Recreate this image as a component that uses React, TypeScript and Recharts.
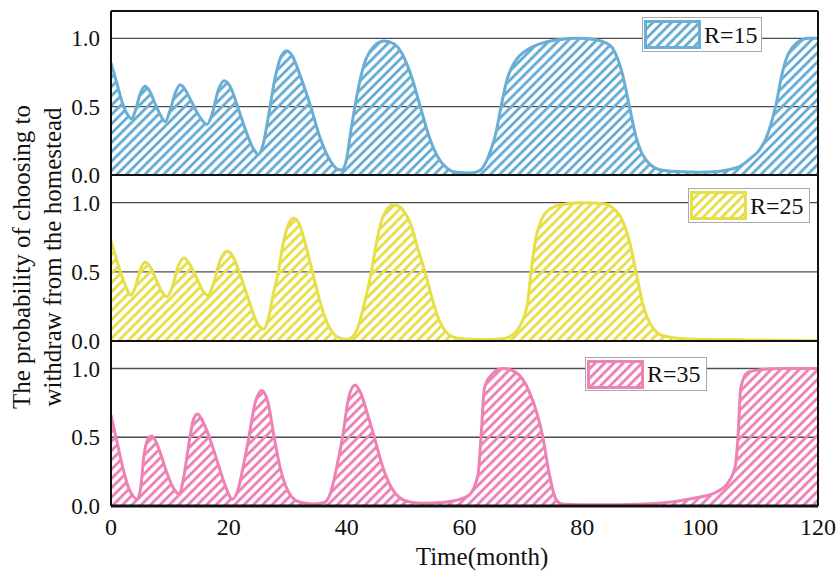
import React from 'react'
import { AreaChart, Area, XAxis, YAxis, CartesianGrid, ReferenceLine } from 'recharts'

// months and probabilities
const r15Months = [
  0, 1, 2, 3, 3.5, 4.2, 5, 5.8, 6.6, 7.5, 8.5, 9.2, 10, 11, 11.75, 12.5, 13.5, 15, 16.3, 17.2,
  18.2, 19.2, 20.2, 21.5, 23, 24.2, 25, 25.8, 26.8, 27.8, 28.8, 29.8, 30.8, 32, 33.9, 35.5, 37,
  38.2, 39.1, 39.9, 40.7, 41.4, 42.3, 43.3, 44.6, 46.4, 48, 49.5, 51, 52.5, 54, 55.5, 57, 58.6,
  61, 62.5, 63.7, 64.6, 65.4, 66.2, 67.3, 68.3, 69.3, 70.8, 72.2, 74, 76.1, 79, 82.3, 83.8, 85.1,
  86, 86.8, 88, 89.1, 90, 90.8, 92, 93, 96, 100, 103, 105, 106.6, 108.8, 110, 111.1, 112, 112.8,
  113.9, 114.7, 115.6, 116.5, 117.3, 118.5, 120,
]
const r15Prob = [
  0.82, 0.67, 0.52, 0.43, 0.41, 0.48, 0.6, 0.65, 0.61, 0.52, 0.43, 0.39, 0.47, 0.61, 0.66, 0.63,
  0.55, 0.43, 0.37, 0.45, 0.62, 0.69, 0.65, 0.5, 0.31, 0.19, 0.15, 0.22, 0.45, 0.7, 0.86, 0.91,
  0.87, 0.74, 0.5, 0.27, 0.12, 0.05, 0.036, 0.1, 0.32, 0.5, 0.7, 0.85, 0.94, 0.98, 0.96, 0.88,
  0.72, 0.5, 0.28, 0.13, 0.05, 0.02, 0.015, 0.03, 0.1, 0.2, 0.32, 0.5, 0.71, 0.81, 0.87, 0.92,
  0.95, 0.975, 0.99, 1.0, 0.99, 0.97, 0.93, 0.85, 0.74, 0.5, 0.28, 0.17, 0.11, 0.06, 0.04, 0.025,
  0.02, 0.025, 0.04, 0.06, 0.13, 0.18, 0.26, 0.37, 0.5, 0.74, 0.86, 0.93, 0.97, 0.99, 1.0, 1.0,
]

const r25Months = [
  0, 1, 2, 3, 3.4, 4.2, 5, 5.8, 6.6, 7.6, 8.6, 9.5, 10.4, 11.4, 12.4, 13.3, 14.5, 15.5, 16.4,
  17.3, 18.5, 19.7, 20.7, 22, 23.5, 24.8, 25.9, 26.8, 27.6, 28.4, 29.2, 30.1, 31, 31.9, 33, 34.2,
  35.5, 36.8, 38.4, 40, 41, 42, 43, 44.2, 45, 46, 47, 47.9, 49, 50, 51, 52, 53.3, 54.5, 55.6,
  56.8, 58, 60, 64, 67, 68.3, 69.3, 70.7, 71.3, 72.2, 73, 73.8, 75.5, 77.2, 80, 84, 85.2, 86.3,
  87.2, 88, 89.1, 90.2, 91, 91.9, 93, 94.7, 98, 105, 112, 120,
]
const r25Prob = [
  0.725, 0.58, 0.45, 0.35, 0.33, 0.4, 0.52, 0.57, 0.54, 0.45, 0.36, 0.32, 0.39, 0.54, 0.6, 0.56,
  0.46, 0.37, 0.33, 0.4, 0.58, 0.65, 0.61, 0.47, 0.28, 0.13, 0.085, 0.18, 0.35, 0.5, 0.7, 0.84,
  0.89, 0.85, 0.7, 0.5, 0.28, 0.12, 0.03, 0.01, 0.03, 0.11, 0.27, 0.5, 0.7, 0.88, 0.96, 0.985,
  0.97, 0.92, 0.83, 0.68, 0.5, 0.31, 0.16, 0.07, 0.03, 0.015, 0.01, 0.02, 0.05, 0.1, 0.275, 0.5,
  0.76, 0.87, 0.93, 0.975, 0.99, 1.0, 0.99, 0.96, 0.91, 0.83, 0.72, 0.5, 0.28, 0.17, 0.1, 0.05,
  0.03, 0.015, 0.01, 0.006, 0.004,
]

const r35Months = [
  0, 1, 2, 3, 3.8, 4.4, 5, 5.6, 6.3, 6.9, 7.6, 8.5, 9.5, 10.6, 11.6, 12.3, 13.4, 14, 14.7, 15.4,
  16.7, 18, 19.3, 20.6, 21.5, 22.5, 23.4, 24.4, 25.6, 26.6, 27.7, 28.7, 29.7, 30.6, 31.6, 33,
  34.5, 36.2, 37.3, 38.3, 39.3, 40.3, 41.4, 42.4, 43.6, 44.7, 46, 47.5, 49, 50.7, 53, 56, 58.5,
  60.8, 62.3, 62.8, 63.4, 64.5, 66.5, 68.8, 71, 72.4, 73.3, 74.4, 75.5, 76.5, 80, 86, 93, 98.7,
  102.7, 104.9, 106, 106.4, 106.9, 108, 110, 114, 120,
]
const r35Prob = [
  0.66, 0.47, 0.28, 0.13, 0.07, 0.05, 0.12, 0.37, 0.49, 0.51, 0.47, 0.37, 0.24, 0.13, 0.085, 0.2,
  0.5, 0.63, 0.67, 0.63, 0.5, 0.33, 0.16, 0.05, 0.11, 0.3, 0.5, 0.74, 0.84, 0.76, 0.5, 0.28, 0.14,
  0.07, 0.035, 0.02, 0.015, 0.025, 0.1, 0.28, 0.5, 0.78, 0.88, 0.82, 0.66, 0.5, 0.3, 0.14, 0.06,
  0.03, 0.02, 0.025, 0.04, 0.08, 0.23, 0.5, 0.86, 0.95, 1.0, 0.97, 0.83, 0.66, 0.5, 0.23, 0.05,
  0.015, 0.01, 0.01, 0.02, 0.055, 0.1, 0.18, 0.3, 0.49, 0.86, 0.97, 0.99, 1.0, 1.0,
]

const xTicks = [0, 20, 40, 60, 80, 100, 120]
const yTicks = [0, 0.5, 1.0]

const SERIF = '"Liberation Serif", "Times New Roman", serif'
const W = 839
const H = 571

const toRows = (months: number[], probs: number[]) =>
  months.map((m, i) => ({ month: m, p: probs[i] }))

function Hatch({ id, color }: { id: string; color: string }) {
  return (
    <pattern id={id} patternUnits="userSpaceOnUse" width={6.6} height={6.6} patternTransform="rotate(45)">
      <rect x={0} y={0} width={2.9} height={6.6} fill={color} />
    </pattern>
  )
}

type PanelProps = {
  id: string
  months: number[]
  probs: number[]
  color: string
  top: number
  bottom: number
  showX?: boolean
}

function Panel({ id, months, probs, color, top, bottom, showX }: PanelProps) {
  return (
    <div style={{ position: 'absolute', left: 0, top: 0 }}>
      <AreaChart
        width={W}
        height={H}
        data={toRows(months, probs)}
        margin={{ top, right: 21, left: 51, bottom }}
      >
        <defs>
          <Hatch id={id} color={color} />
        </defs>
        <CartesianGrid vertical={false} stroke="#4d4d4d" strokeWidth={1.3} />
        <XAxis
          type="number"
          dataKey="month"
          domain={[0, 120]}
          ticks={xTicks}
          height={showX ? 30 : 0}
          tick={showX ? { fontFamily: SERIF, fontSize: 24, fill: '#111' } : false}
          tickLine={false}
          tickSize={10}
          tickMargin={2}
          axisLine={{ stroke: '#111', strokeWidth: 3 }}
        />
        <YAxis
          type="number"
          domain={[0, 1.2]}
          ticks={yTicks}
          width={60}
          tickFormatter={(v: number) => v.toFixed(1)}
          tick={{ fontFamily: SERIF, fontSize: 23, fill: '#111' }}
          tickLine={false}
          tickSize={9}
          tickMargin={2}
          axisLine={{ stroke: '#111', strokeWidth: 2 }}
        />
        <Area
          type="monotone"
          dataKey="p"
          stroke={color}
          strokeWidth={3}
          fill={`url(#${id})`}
          fillOpacity={1}
          dot={false}
          activeDot={false}
          isAnimationActive={false}
        />
        <ReferenceLine x={120} stroke="#111" strokeWidth={2} />
        <ReferenceLine y={1.2} stroke="#111" strokeWidth={2} />
      </AreaChart>
    </div>
  )
}

function LegendBox({ left, top, width, height, color, label, id }: {
  left: number; top: number; width: number; height: number; color: string; label: string; id: string
}) {
  return (
    <div
      style={{
        position: 'absolute', left, top, width, height, boxSizing: 'border-box',
        border: '1px solid #a8a8a8', background: '#fff', display: 'flex', alignItems: 'center',
      }}
    >
      <svg width={57} height={29} style={{ marginLeft: 1, display: 'block' }}>
        <defs>
          <Hatch id={id} color={color} />
        </defs>
        <rect x={1.5} y={1.5} width={54} height={26} fill={`url(#${id})`} stroke={color} strokeWidth={3} />
      </svg>
      <span style={{ fontFamily: SERIF, fontSize: 24, color: '#111', marginLeft: 3, lineHeight: 1 }}>{label}</span>
    </div>
  )
}

export default function App() {
  return (
    <div style={{ position: 'absolute', left: 0, top: 0, width: W, height: H, background: '#fff' }}>
      <Panel id="hatch15" months={r15Months} probs={r15Prob} color="#6aaed6" top={11} bottom={396} />
      <Panel id="hatch25" months={r25Months} probs={r25Prob} color="#e6df4a" top={175} bottom={230} />
      <Panel id="hatch35" months={r35Months} probs={r35Prob} color="#ee82b4" top={341} bottom={35} showX />

      <LegendBox left={642} top={17} width={120} height={35} color="#6aaed6" label="R=15" id="lg15" />
      <LegendBox left={688} top={188} width={122} height={35} color="#e6df4a" label="R=25" id="lg25" />
      <LegendBox left={585} top={357} width={122} height={34} color="#ee82b4" label="R=35" id="lg35" />

      <svg width={W} height={H} style={{ position: 'absolute', left: 0, top: 0, pointerEvents: 'none' }}>
        <text
          transform="translate(30,257) rotate(-90)"
          textAnchor="middle"
          fontFamily={SERIF}
          fontSize={25}
          fill="#111"
        >
          The probability of choosing to
        </text>
        <text
          transform="translate(61,257) rotate(-90)"
          textAnchor="middle"
          fontFamily={SERIF}
          fontSize={25}
          fill="#111"
        >
          withdraw from the homestead
        </text>
        <text x={482} y={565} textAnchor="middle" fontFamily={SERIF} fontSize={25} fill="#111">
          Time(month)
        </text>
      </svg>
    </div>
  )
}
